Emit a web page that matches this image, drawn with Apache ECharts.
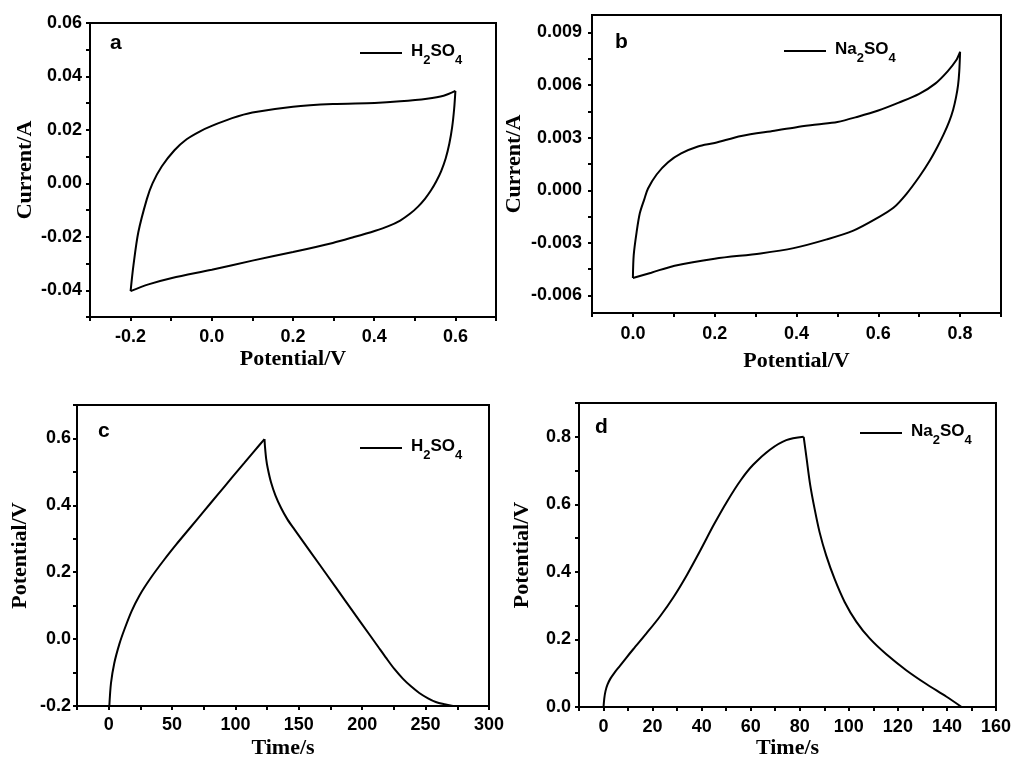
<!DOCTYPE html>
<html>
<head>
<meta charset="utf-8">
<script src="https://cdn.jsdelivr.net/npm/echarts@6/dist/echarts.min.js"></script>
<style>
  html, body { margin: 0; padding: 0; background: #fff; }
  #chart { width: 1014px; height: 760px; }
</style>
</head>
<body>
<div id="chart"></div>
<script>
// (a) CV in H2SO4 - anodic / cathodic branches
const aUpX = [-0.2, -0.193, -0.181, -0.160, -0.146, -0.123, -0.092, -0.062, -0.030, 0.0, 0.05, 0.1, 0.2, 0.298, 0.401, 0.464, 0.53, 0.571, 0.6];
const aUpY = [-0.0403, -0.0307, -0.0183, -0.0059, 0.0, 0.0064, 0.0124, 0.0165, 0.0194, 0.0215, 0.0244, 0.0265, 0.0287, 0.0297, 0.0301, 0.0307, 0.0317, 0.0328, 0.0346];
const aDownX = [0.6, 0.597, 0.592, 0.585, 0.576, 0.565, 0.553, 0.540, 0.525, 0.508, 0.488, 0.464, 0.435, 0.401, 0.35, 0.298, 0.2, 0.1, 0.0, -0.098, -0.156, -0.2];
const aDownY = [0.0346, 0.028, 0.021, 0.0148, 0.0093, 0.0046, 0.0008, -0.0026, -0.0058, -0.0087, -0.0114, -0.0139, -0.016, -0.0178, -0.0201, -0.0223, -0.0257, -0.0289, -0.0323, -0.0354, -0.0378, -0.0403];

// (b) CV in Na2SO4
const bUpX = [0.0, 0.002, 0.009, 0.017, 0.028, 0.037, 0.058, 0.086, 0.118, 0.159, 0.2, 0.265, 0.346, 0.4, 0.45, 0.5, 0.55, 0.6, 0.65, 0.7, 0.74, 0.77, 0.79, 0.8];
const bUpY = [-0.005, -0.0037, -0.0024, -0.0013, -0.0005, 0.0001, 0.0009, 0.0016, 0.0021, 0.0025, 0.0027, 0.0031, 0.0034, 0.0036, 0.00375, 0.0039, 0.0042, 0.00455, 0.005, 0.0055, 0.0061, 0.0068, 0.0074, 0.0079];
const bDownX = [0.8, 0.798, 0.795, 0.79, 0.783, 0.773, 0.76, 0.745, 0.726, 0.701, 0.669, 0.637, 0.596, 0.539, 0.474, 0.393, 0.312, 0.2, 0.102, 0.045, 0.0];
const bDownY = [0.0079, 0.0068, 0.006, 0.0053, 0.0046, 0.0039, 0.0032, 0.0025, 0.0017, 0.0008, -0.0002, -0.001, -0.0016, -0.0023, -0.0028, -0.0033, -0.0036, -0.0039, -0.0043, -0.0047, -0.005];

// (c) GCD in H2SO4
const cChargeT = [0.5, 1.8, 4.4, 8.4, 12.3, 18, 24.2, 33, 43.9, 53.5, 63.6, 75, 86, 97, 107, 115, 122.9];
const cChargeV = [-0.2, -0.132, -0.072, -0.015, 0.028, 0.083, 0.130, 0.182, 0.238, 0.284, 0.330, 0.382, 0.432, 0.482, 0.527, 0.563, 0.598];
const cDischargeT = [122.9, 123.3, 124.2, 125.5, 128.1, 131.5, 136, 141, 146.5, 159.7, 172.9, 186, 199.2, 212.4, 219, 225.5, 232, 238.7, 245, 251.9, 258, 265, 271.6];
const cDischargeV = [0.598, 0.575, 0.540, 0.510, 0.468, 0.430, 0.392, 0.358, 0.328, 0.258, 0.188, 0.118, 0.048, -0.022, -0.057, -0.090, -0.118, -0.142, -0.161, -0.177, -0.188, -0.195, -0.2];

// (d) GCD in Na2SO4
const dChargeT = [0, 0.3, 0.8, 1.6, 2.8, 4.5, 6.6, 9.2, 12.1, 17.5, 23, 28.5, 34, 39.5, 45, 50.5, 56, 61, 67.7, 74.5, 81.6];
const dChargeV = [0, 0.025, 0.047, 0.066, 0.084, 0.102, 0.121, 0.145, 0.171, 0.218, 0.268, 0.325, 0.391, 0.464, 0.540, 0.610, 0.672, 0.717, 0.761, 0.790, 0.8];
const dDischargeT = [81.6, 82.8, 84.2, 86.1, 88.1, 90.8, 94.2, 98.3, 103.1, 108.5, 115.3, 123.4, 131.6, 139.7, 146];
const dDischargeV = [0.8, 0.735, 0.660, 0.585, 0.517, 0.448, 0.379, 0.311, 0.252, 0.203, 0.156, 0.109, 0.068, 0.031, 0.0];

// tick labels and tick marks
const aXLabels = [-0.2, 0.0, 0.2, 0.4, 0.6];
const aXTicks = [-0.3, -0.2, -0.1, 0.0, 0.1, 0.2, 0.3, 0.4, 0.5, 0.6, 0.7];
const aYLabels = [-0.04, -0.02, 0.0, 0.02, 0.04, 0.06];
const aYTicks = [-0.05, -0.04, -0.03, -0.02, -0.01, 0.0, 0.01, 0.02, 0.03, 0.04, 0.05, 0.06];
const bXLabels = [0.0, 0.2, 0.4, 0.6, 0.8];
const bXTicks = [-0.1, 0.0, 0.1, 0.2, 0.3, 0.4, 0.5, 0.6, 0.7, 0.8, 0.9];
const bYLabels = [-0.006, -0.003, 0.0, 0.003, 0.006, 0.009];
const bYTicks = [-0.006, -0.0045, -0.003, -0.0015, 0.0, 0.0015, 0.003, 0.0045, 0.006, 0.0075, 0.009];
const cXLabels = [0, 50, 100, 150, 200, 250, 300];
const cXTicks = [-25, 0, 25, 50, 75, 100, 125, 150, 175, 200, 225, 250, 275, 300];
const cYLabels = [-0.2, 0.0, 0.2, 0.4, 0.6];
const cYTicks = [-0.2, -0.1, 0.0, 0.1, 0.2, 0.3, 0.4, 0.5, 0.6, 0.7];
const dXLabels = [0, 20, 40, 60, 80, 100, 120, 140, 160];
const dXTicks = [-10, 0, 10, 20, 30, 40, 50, 60, 70, 80, 90, 100, 110, 120, 130, 140, 150, 160];
const dYLabels = [0.0, 0.2, 0.4, 0.6, 0.8];
const dYTicks = [0.0, 0.1, 0.2, 0.3, 0.4, 0.5, 0.6, 0.7, 0.8, 0.9];

const sansFont = '"Liberation Sans", Arial, sans-serif';
const serifFont = '"Liberation Serif", "Times New Roman", serif';

const zip = (xs, ys) => xs.map((x, i) => [x, ys[i]]);

const chart = echarts.init(document.getElementById('chart'));

// same look for both axis directions
function axisFor(grid, min, max, ticks, labels, digits, name, margin, nameGap) {
  return {
    type: 'value', gridIndex: grid, min: min, max: max,
    name: name, nameLocation: 'middle', nameGap: nameGap,
    nameTextStyle: { fontFamily: serifFont, fontWeight: 'bold', fontSize: 22, color: '#000' },
    axisLine: { onZero: false, lineStyle: { color: '#000', width: 2 } },
    axisTick: { customValues: ticks, length: 4, lineStyle: { color: '#000', width: 2 } },
    axisLabel: {
      customValues: labels, margin: margin, color: '#000',
      fontFamily: sansFont, fontWeight: 'bold', fontSize: 18,
      formatter: (v) => v.toFixed(digits)
    },
    splitLine: { show: false }
  };
}

const legendRich = {
  n: { fontFamily: sansFont, fontWeight: 'bold', fontSize: 17, lineHeight: 20, verticalAlign: 'top', color: '#000' },
  s: { fontFamily: sansFont, fontWeight: 'bold', fontSize: 13, lineHeight: 13, padding: [11, 0, 0, 0], verticalAlign: 'top', color: '#000' }
};

function legendFor(name, left, top) {
  return {
    data: [name], left: left, top: top, padding: 0,
    icon: 'rect', itemWidth: 42, itemHeight: 2, itemGap: 0,
    itemStyle: { color: '#000' },
    textStyle: { rich: legendRich, padding: [0, 0, 0, 4] },
    formatter: (n) => n.startsWith('H2') ? '{n|H}{s|2}{n|SO}{s|4}' : '{n|Na}{s|2}{n|SO}{s|4}'
  };
}

function lineSeries(name, xi, data) {
  return {
    name: name, type: 'line', xAxisIndex: xi, yAxisIndex: xi,
    data: data, showSymbol: false, smooth: 0.3,
    lineStyle: { color: '#000', width: 2 }, itemStyle: { color: '#000' }
  };
}

const letterStyle = { fontFamily: sansFont, fontWeight: 'bold', fontSize: 21, color: '#000' };

const options = {
  animation: false,
  backgroundColor: '#fff',
  title: [
    { text: 'a', left: 110, top: 33, padding: 0, textStyle: letterStyle },
    { text: 'b', left: 615, top: 32, padding: 0, textStyle: letterStyle },
    { text: 'c', left: 98, top: 421, padding: 0, textStyle: letterStyle },
    { text: 'd', left: 595, top: 417, padding: 0, textStyle: letterStyle }
  ],
  legend: [
    legendFor('H2SO4 CV', 360, 43),
    legendFor('Na2SO4 CV', 784, 41),
    legendFor('H2SO4 GCD', 360, 438),
    legendFor('Na2SO4 GCD', 860, 423)
  ],
  grid: [
    { left: 90, top: 23, width: 406, height: 294 },
    { left: 592, top: 15, width: 409, height: 298 },
    { left: 77, top: 405, width: 412, height: 301 },
    { left: 579, top: 403, width: 418, height: 306 }
  ].map((g) => Object.assign(g, { show: true, borderColor: '#000', borderWidth: 2 })),
  xAxis: [
    axisFor(0, -0.3, 0.7, aXTicks, aXLabels, 1, 'Potential/V', 11, 31),
    axisFor(1, -0.1, 0.9, bXTicks, bXLabels, 1, 'Potential/V', 12, 37),
    axisFor(2, -25, 300, cXTicks, cXLabels, 0, 'Time/s', 10, 31),
    axisFor(3, -10, 160, dXTicks, dXLabels, 0, 'Time/s', 11, 30)
  ],
  yAxis: [
    axisFor(0, -0.05, 0.06, aYTicks, aYLabels, 2, 'Current/A', 8, 54),
    axisFor(1, -0.007, 0.010, bYTicks, bYLabels, 3, 'Current/A', 10, 67),
    axisFor(2, -0.2, 0.7, cYTicks, cYLabels, 1, 'Potential/V', 6, 46),
    axisFor(3, 0, 0.9, dYTicks, dYLabels, 1, 'Potential/V', 8, 46)
  ],
  series: [
    lineSeries('H2SO4 CV', 0, zip(aUpX, aUpY)),
    lineSeries('H2SO4 CV', 0, zip(aDownX, aDownY)),
    lineSeries('Na2SO4 CV', 1, zip(bUpX, bUpY)),
    lineSeries('Na2SO4 CV', 1, zip(bDownX, bDownY)),
    lineSeries('H2SO4 GCD', 2, zip(cChargeT, cChargeV)),
    lineSeries('H2SO4 GCD', 2, zip(cDischargeT, cDischargeV)),
    lineSeries('Na2SO4 GCD', 3, zip(dChargeT, dChargeV)),
    lineSeries('Na2SO4 GCD', 3, zip(dDischargeT, dDischargeV))
  ]
};

chart.setOption(options);
</script>
</body>
</html>
